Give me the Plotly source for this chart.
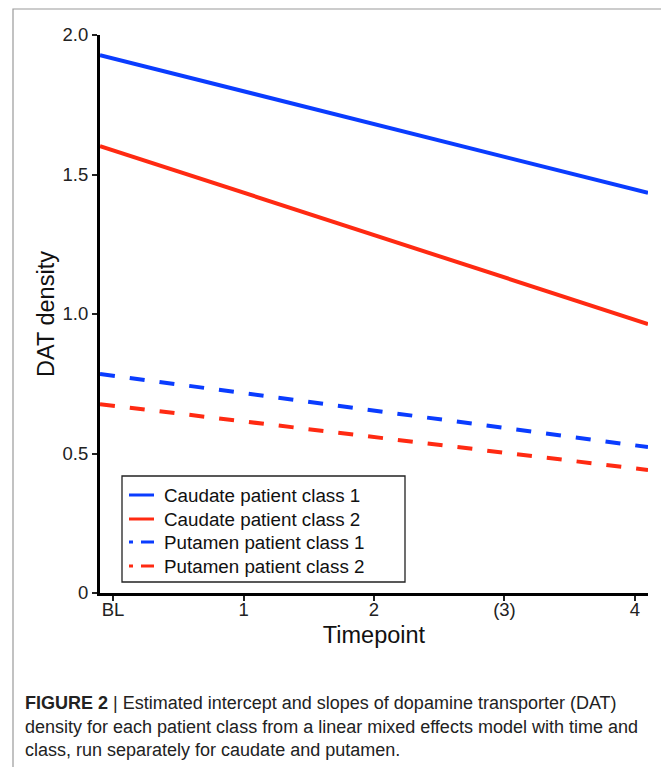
import plotly.graph_objects as go

# Data: fitted line values at the two ends of the x range
x_ends = [-0.1, 4.1]
series_names = ["Caudate patient class 1", "Caudate patient class 2",
                "Putamen patient class 1", "Putamen patient class 2"]
start_values = [1.928, 1.602, 0.785, 0.677]
end_values = [1.434, 0.964, 0.523, 0.441]
series_colors = ["#0a3cff", "#ff2a12", "#0a3cff", "#ff2a12"]
series_dash = ["solid", "solid", "15px,15px", "15px,15px"]
legend_dash = ["solid", "solid", "4px,8px,13px", "4px,8px,13px"]

x_tickvals = [0, 1, 2, 3, 4]
x_ticktext = ["BL", "1", "2", "(3)", "4"]
y_tickvals = [0, 0.5, 1.0, 1.5, 2.0]
y_ticktext = ["0", "0.5", "1.0", "1.5", "2.0"]

# page body adds an 8px offset; work in reference (window) pixel coordinates
OFF = 8
WIN_W, WIN_H = 669, 767
PL, PR, PT, PB = 100, 648, 35, 593  # plot area in window pixels
W, H = WIN_W - OFF, WIN_H - OFF
L, T = PL - OFF, PT - OFF
R, B = WIN_W - PR, WIN_H - PB
pw, ph = PR - PL, PB - PT

def px_x(p):
    return (p - PL) / pw

def px_y(p):
    return (PB - p) / ph

fig = go.Figure()
for name, y0, y1, c, d in zip(series_names, start_values, end_values, series_colors, series_dash):
    fig.add_trace(go.Scatter(x=x_ends, y=[y0, y1], mode="lines", name=name,
                             showlegend=False,
                             line=dict(color=c, width=4, dash=d)))

fig.update_layout(
    width=W, height=H,
    margin=dict(l=L, r=R, t=T, b=B),
    paper_bgcolor="white", plot_bgcolor="white",
    font=dict(family="Liberation Sans, Arial, sans-serif", color="#111"),
    showlegend=False,
    xaxis=dict(range=x_ends, tickvals=x_tickvals, ticktext=x_ticktext,
               showgrid=False, zeroline=False, showline=True, linecolor="black",
               linewidth=3, ticks="outside", ticklen=5, tickwidth=1.5, tickcolor="#222",
               ticklabelstandoff=-7,
               tickfont=dict(size=18.5, color="#222"),
               title=dict(text="Timepoint", font=dict(size=23.5, color="#111"), standoff=8)),
    yaxis=dict(range=[0, 2], tickvals=y_tickvals, ticktext=y_ticktext,
               showgrid=False, zeroline=False, showline=True, linecolor="black",
               linewidth=3, ticks="outside", ticklen=5, tickwidth=1.5, tickcolor="#222",
               tickfont=dict(size=18.5, color="#222"),
               title=dict(text="DAT density", font=dict(size=23.5, color="#111"), standoff=2)),
)

# legend box drawn inside the plot
fig.add_shape(type="rect", xref="paper", yref="paper",
              x0=px_x(122), x1=px_x(405), y0=px_y(582), y1=px_y(476),
              line=dict(color="#222", width=1.3), fillcolor="white", layer="above")
legend_rows = [495, 519, 542, 566]
for name, c, d, ry in zip(series_names, series_colors, legend_dash, legend_rows):
    fig.add_shape(type="line", xref="paper", yref="paper",
                  x0=px_x(129), x1=px_x(154), y0=px_y(ry), y1=px_y(ry),
                  line=dict(color=c, width=3, dash=d), layer="above")
    fig.add_annotation(text=name, xref="paper", yref="paper", x=px_x(162), y=px_y(ry),
                       xanchor="left", yanchor="middle", showarrow=False,
                       font=dict(size=18.8, color="#111"))

# outer frame of the figure panel
fig.add_shape(type="rect", xref="paper", yref="paper",
              x0=px_x(13), x1=px_x(665), y0=px_y(775), y1=px_y(9),
              line=dict(color="#9a9a9a", width=1.2), layer="below")

caption_lines = [
    "<b>FIGURE 2</b> | Estimated intercept and slopes of dopamine transporter (DAT)",
    "density for each patient class from a linear mixed effects model with time and",
    "class, run separately for caudate and putamen.",
]
caption_y = [703, 727, 750]
for txt, yy in zip(caption_lines, caption_y):
    fig.add_annotation(text=txt, xref="paper", yref="paper", x=px_x(23), y=px_y(yy),
                       xanchor="left", yanchor="middle", showarrow=False,
                       font=dict(family="Liberation Sans Narrow, Arial Narrow, Liberation Sans, sans-serif",
                                 size=18, color="#222"))

fig.write_html("out.html")
